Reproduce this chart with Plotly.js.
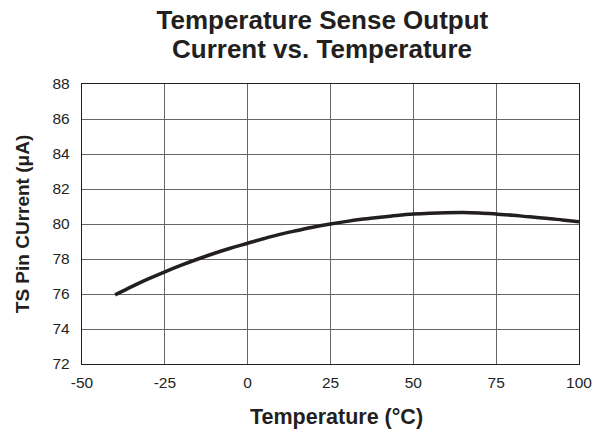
<!DOCTYPE html>
<html>
<head>
<meta charset="utf-8">
<script src="https://cdn.plot.ly/plotly-3.0.1.min.js"></script>
<style>html,body{margin:0;padding:0;background:#fff;}#chart{width:597px;height:437px;}</style>
</head>
<body>
<div id="chart"></div>
<script>
var temperature = [-40,-35,-30,-25,-20,-15,-10,-5,0,5,10,15,20,25,30,35,40,45,50,55,60,65,70,75,80,85,90,95,100];
var currentUA = [75.95,76.42,76.86,77.27,77.65,78.00,78.33,78.63,78.90,79.17,79.42,79.63,79.83,80.00,80.15,80.28,80.39,80.49,80.57,80.62,80.65,80.66,80.63,80.57,80.50,80.41,80.33,80.23,80.13];
var xTicks = [-50,-25,0,25,50,75,100];
var yTicks = [72,74,76,78,80,82,84,86,88];
var titleLine1 = 'Temperature Sense Output';
var titleLine2 = 'Current vs. Temperature';

var font = "Liberation Sans, Arial, sans-serif";
var trace = {
  x: temperature, y: currentUA, type: 'scatter', mode: 'lines',
  line: {color: '#231f20', width: 3.5, shape: 'spline'},
  hoverinfo: 'skip'
};
var layout = {
  width: 597, height: 437,
  margin: {l: 82, r: 17.5, t: 84, b: 73},
  paper_bgcolor: '#fff', plot_bgcolor: '#fff',
  showlegend: false,
  title: {
    text: '<b>' + titleLine1 + '</b>',
    font: {family: font, size: 26, color: '#231f20'},
    x: 0.54, xanchor: 'center', yref: 'container', y: 1 - 19.5/437, yanchor: 'middle'
  },
  annotations: [{
    text: '<b>' + titleLine2 + '</b>', showarrow: false,
    xref: 'paper', yref: 'paper', x: 0.5 - 8.5/497.5, xanchor: 'center',
    y: 1 + (84 - 48.5)/280, yanchor: 'middle',
    font: {family: font, size: 26, color: '#231f20'}
  }, {
    text: '<b>Temperature (°C)</b>', showarrow: false,
    xref: 'paper', yref: 'paper', x: 0.5 + 6.5/497.5, xanchor: 'center',
    y: -(417 - 364)/280, yanchor: 'middle',
    font: {family: font, size: 21.5, color: '#231f20'}
  }],
  xaxis: {
    range: [-50, 100], tickvals: xTicks, ticktext: xTicks.map(String),
    showgrid: true, gridcolor: '#666', gridwidth: 1,
    showline: true, linecolor: '#231f20', linewidth: 1.2, mirror: true,
    ticks: '', zeroline: false, ticklabelstandoff: 4,
    tickfont: {family: font, size: 15.5, color: '#231f20'}
  },
  yaxis: {
    range: [72, 88], tickvals: yTicks, ticktext: yTicks.map(String),
    showgrid: true, gridcolor: '#666', gridwidth: 1,
    showline: true, linecolor: '#231f20', linewidth: 1.2, mirror: true,
    ticks: '', zeroline: false, ticklabelstandoff: 8,
    tickfont: {family: font, size: 15.5, color: '#231f20'},
    title: {text: '<b>TS Pin CUrrent (μA)</b>', font: {family: font, size: 19, color: '#231f20'}, standoff: 17}
  }
};
Plotly.newPlot('chart', [trace], layout, {displayModeBar: false, staticPlot: true});
</script>
</body>
</html>
